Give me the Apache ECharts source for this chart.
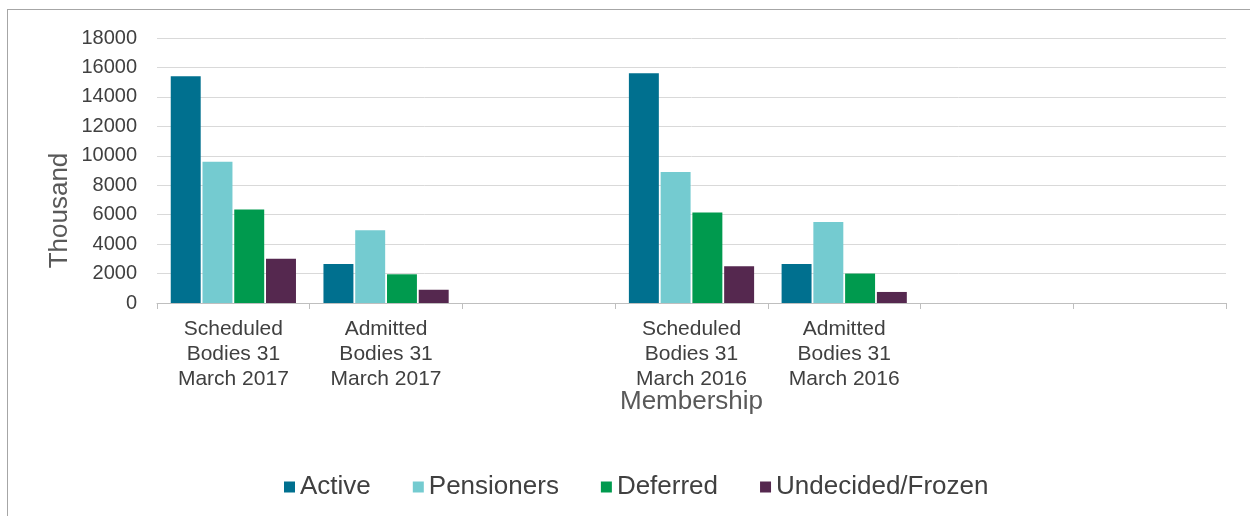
<!DOCTYPE html>
<html>
<head>
<meta charset="utf-8">
<script src="https://cdn.jsdelivr.net/npm/echarts@6/dist/echarts.min.js"></script>
<style>
  html, body { margin: 0; padding: 0; background: #fff; overflow: hidden; }
  #frame { position: absolute; left: 7px; top: 9px; width: 1300px; height: 600px; border: 1px solid #a6a6a6; box-sizing: border-box; }
  #chart { position: absolute; left: 0; top: 0; width: 1250px; height: 516px; }
</style>
</head>
<body>
<div id="frame"></div>
<div id="chart"></div>
<script>
const categories = [
  'Scheduled\nBodies 31\nMarch 2017',
  'Admitted\nBodies 31\nMarch 2017',
  '',
  'Scheduled\nBodies 31\nMarch 2016',
  'Admitted\nBodies 31\nMarch 2016',
  '',
  ''
]
const active = [15400, 2650, null, 15600, 2650, null, null]
const pensioners = [9600, 4950, null, 8900, 5500, null, null]
const deferred = [6350, 1950, null, 6150, 2000, null, null]
const undecided = [3000, 900, null, 2500, 750, null, null]

const colors = ['#00708f', '#74cbd0', '#009a4e', '#55284f']
const textColor = '#404040'
const font = 'Liberation Sans, Arial, sans-serif'

const chart = echarts.init(document.getElementById('chart'))

function bar(name, data) {
  return {
    name: name,
    type: 'bar',
    data: data,
    barGap: '6%',
    barCategoryGap: '18%',
    animation: false
  }
}

chart.setOption({
  color: colors,
  textStyle: { fontFamily: font },
  grid: { left: 157, right: 24, top: 38, bottom: 213, containLabel: false },
  legend: {
    top: 469,
    left: 279,
    icon: 'rect',
    itemWidth: 11,
    itemHeight: 11,
    itemGap: 42,
    textStyle: { fontSize: 26, color: textColor, fontFamily: font },
    data: ['Active', 'Pensioners', 'Deferred', 'Undecided/Frozen']
  },
  xAxis: {
    type: 'category',
    data: categories,
    name: 'Membership',
    nameLocation: 'middle',
    nameGap: 86,
    nameMoveOverlap: false,
    nameTextStyle: { fontSize: 26, color: '#595959', fontFamily: font },
    axisLine: { lineStyle: { color: '#bfbfbf', width: 1 } },
    axisTick: { show: true, length: 6, lineStyle: { color: '#bfbfbf' } },
    axisLabel: { interval: 0, fontSize: 21, lineHeight: 25, color: textColor, margin: 14, fontFamily: font }
  },
  yAxis: {
    type: 'value',
    min: 0,
    max: 18000,
    interval: 2000,
    name: 'Thousand',
    nameLocation: 'middle',
    nameGap: 84,
    nameMoveOverlap: false,
    nameTextStyle: { fontSize: 26, color: '#595959', fontFamily: font, padding: [0, 80, 0, 0] },
    axisLine: { show: false },
    axisTick: { show: false },
    axisLabel: { fontSize: 20, color: textColor, margin: 20, fontFamily: font, formatter: v => String(v) },
    splitLine: { lineStyle: { color: '#d9d9d9', width: 1 } }
  },
  series: [
    bar('Active', active),
    bar('Pensioners', pensioners),
    bar('Deferred', deferred),
    bar('Undecided/Frozen', undecided)
  ]
})
</script>
</body>
</html>
